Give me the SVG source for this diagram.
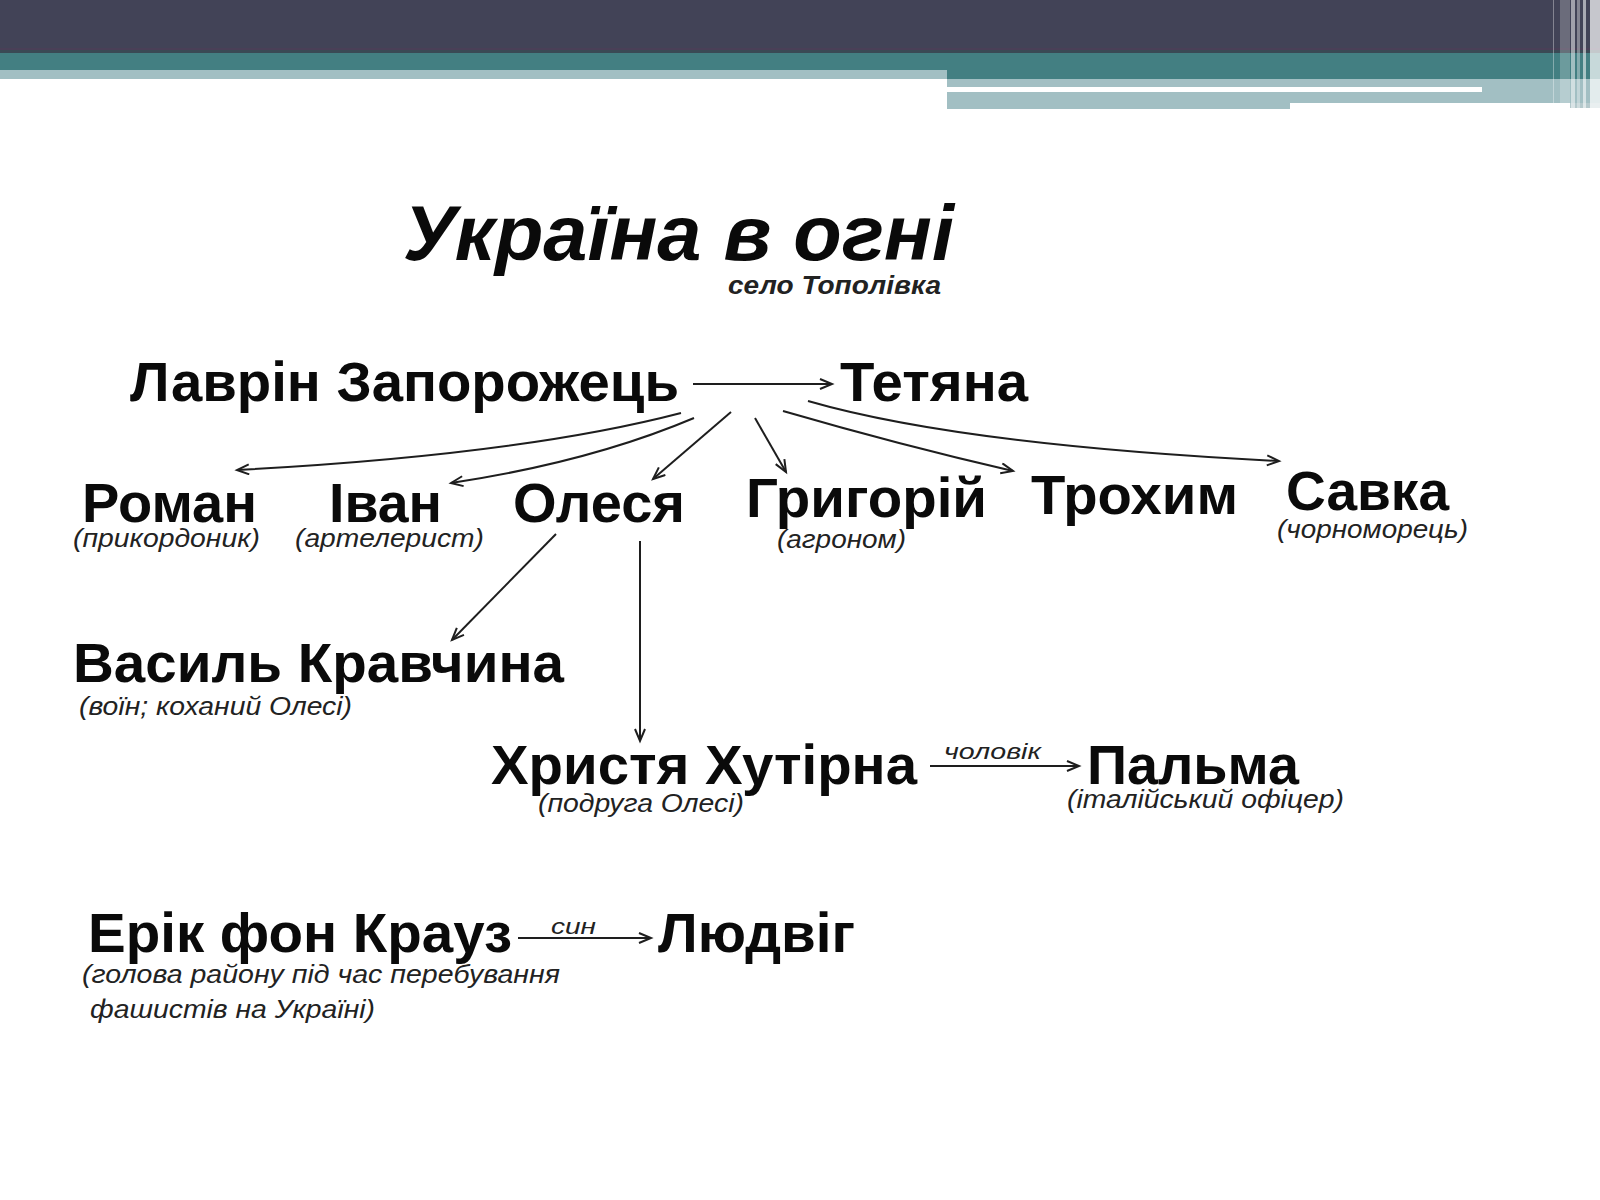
<svg xmlns="http://www.w3.org/2000/svg" width="1600" height="1200" viewBox="0 0 1600 1200">
<defs>
<style>
.n{font-family:"Liberation Sans",Arial,sans-serif;font-weight:bold;font-size:55px;fill:#0a0a0a}
.s{font-family:"Liberation Sans",Arial,sans-serif;font-style:italic;font-size:25px;fill:#222}
.lbl{font-family:"Liberation Sans",Arial,sans-serif;font-style:italic;font-size:22px;fill:#222}
.c{fill:none;stroke:#1e1e1e;stroke-width:2;marker-end:url(#ah)}
</style>
<marker id="ah" markerUnits="userSpaceOnUse" markerWidth="16" markerHeight="14" refX="13" refY="6" orient="auto">
<path d="M1,1 L13,6 L1,11" fill="none" stroke="#1e1e1e" stroke-width="2"/>
</marker>
</defs>
<rect width="1600" height="1200" fill="#ffffff"/>
<g id="header">
<rect x="0" y="0" width="1600" height="53" fill="#424357"/>
<rect x="0" y="48" width="1600" height="2" fill="#4a3f57"/>
<rect x="0" y="50" width="1600" height="3" fill="#3a4a55"/>
<rect x="0" y="53" width="1600" height="17" fill="#437f82"/>
<rect x="0" y="70" width="947" height="9" fill="#a2bfc3"/>
<rect x="947" y="70" width="653" height="9" fill="#437f82"/>
<rect x="947" y="79" width="653" height="24" fill="#a2bfc3"/>
<rect x="947" y="103" width="343" height="6" fill="#a2bfc3"/>
<rect x="1570" y="103" width="30" height="5" fill="#b5c9cc"/>
<rect x="947" y="87" width="535" height="5" fill="#ffffff"/>
<rect x="1553" y="0" width="1" height="103" fill="#ffffff" opacity="0.35"/>
<rect x="1560" y="0" width="10" height="103" fill="#ffffff" opacity="0.22"/>
<rect x="1571" y="0" width="4" height="108" fill="#ffffff" opacity="0.5"/>
<rect x="1577" y="0" width="3" height="108" fill="#ffffff" opacity="0.35"/>
<rect x="1583" y="0" width="3" height="108" fill="#ffffff" opacity="0.55"/>
<rect x="1590" y="0" width="10" height="108" fill="#ffffff" opacity="0.7"/>
</g>
<g id="title">
<text x="403" y="260" textLength="551" lengthAdjust="spacingAndGlyphs" style="font-family:'Liberation Sans',Arial,sans-serif;font-weight:bold;font-style:italic;font-size:78px;fill:#0a0a0a">Україна в огні</text>
<text x="728" y="294" textLength="213" lengthAdjust="spacingAndGlyphs" style="font-family:'Liberation Sans',Arial,sans-serif;font-weight:bold;font-style:italic;font-size:25px;fill:#222">село Тополівка</text>
</g>
<g id="connectors">
<line class="c" x1="693" y1="384" x2="832" y2="384"/>
<path class="c" d="M681,413 Q520,455 237,470"/>
<path class="c" d="M694,418 Q590,462 451,483"/>
<line class="c" x1="731" y1="412" x2="653" y2="479"/>
<line class="c" x1="755" y1="418" x2="786" y2="472"/>
<path class="c" d="M783,411 Q900,445 1013,471"/>
<path class="c" d="M808,401 Q960,445 1279,461"/>
<line class="c" x1="556" y1="534" x2="452" y2="640"/>
<line class="c" x1="640" y1="541" x2="640" y2="741"/>
<line class="c" x1="930" y1="766" x2="1079" y2="766"/>
<line class="c" x1="518" y1="938" x2="651" y2="938"/>
<text class="lbl" x="944" y="759" textLength="97" lengthAdjust="spacingAndGlyphs">чоловік</text>
<text class="lbl" x="551" y="934" textLength="45" lengthAdjust="spacingAndGlyphs">син</text>
</g>
<g id="lavrin"><text class="n" x="130" y="401" textLength="549" lengthAdjust="spacingAndGlyphs">Лаврін Запорожець</text></g>
<g id="tetiana"><text class="n" x="840" y="401" textLength="188" lengthAdjust="spacingAndGlyphs">Тетяна</text></g>
<g id="roman">
<text class="n" x="82" y="522" textLength="175" lengthAdjust="spacingAndGlyphs">Роман</text>
<text class="s" x="73" y="547" textLength="187" lengthAdjust="spacingAndGlyphs">(прикордоник)</text>
</g>
<g id="ivan">
<text class="n" x="329" y="522" textLength="113" lengthAdjust="spacingAndGlyphs">Іван</text>
<text class="s" x="295" y="547" textLength="189" lengthAdjust="spacingAndGlyphs">(артелерист)</text>
</g>
<g id="olesia"><text class="n" x="513" y="522" textLength="172" lengthAdjust="spacingAndGlyphs">Олеся</text></g>
<g id="hryhorii">
<text class="n" x="746" y="517" textLength="241" lengthAdjust="spacingAndGlyphs">Григорій</text>
<text class="s" x="777" y="548" textLength="129" lengthAdjust="spacingAndGlyphs">(агроном)</text>
</g>
<g id="trokhym"><text class="n" x="1031" y="514" textLength="207" lengthAdjust="spacingAndGlyphs">Трохим</text></g>
<g id="savka">
<text class="n" x="1286" y="510" textLength="163" lengthAdjust="spacingAndGlyphs">Савка</text>
<text class="s" x="1277" y="538" textLength="191" lengthAdjust="spacingAndGlyphs">(чорноморець)</text>
</g>
<g id="vasyl">
<text class="n" x="73" y="682" textLength="491" lengthAdjust="spacingAndGlyphs">Василь Кравчина</text>
<text class="s" x="79" y="715" textLength="273" lengthAdjust="spacingAndGlyphs">(воїн; коханий Олесі)</text>
</g>
<g id="khrystia">
<text class="n" x="491" y="784" textLength="426" lengthAdjust="spacingAndGlyphs">Христя Хутірна</text>
<text class="s" x="538" y="812" textLength="206" lengthAdjust="spacingAndGlyphs">(подруга Олесі)</text>
</g>
<g id="palma">
<text class="n" x="1087" y="784" textLength="212" lengthAdjust="spacingAndGlyphs">Пальма</text>
<text class="s" x="1067" y="808" textLength="277" lengthAdjust="spacingAndGlyphs">(італійський офіцер)</text>
</g>
<g id="erik">
<text class="n" x="88" y="952" textLength="424" lengthAdjust="spacingAndGlyphs">Ерік фон Крауз</text>
<text class="s" x="82" y="983" textLength="478" lengthAdjust="spacingAndGlyphs">(голова району під час перебування</text>
<text class="s" x="90" y="1018" textLength="285" lengthAdjust="spacingAndGlyphs">фашистів на Україні)</text>
</g>
<g id="liudvig"><text class="n" x="658" y="952" textLength="197" lengthAdjust="spacingAndGlyphs">Людвіг</text></g>
</svg>
